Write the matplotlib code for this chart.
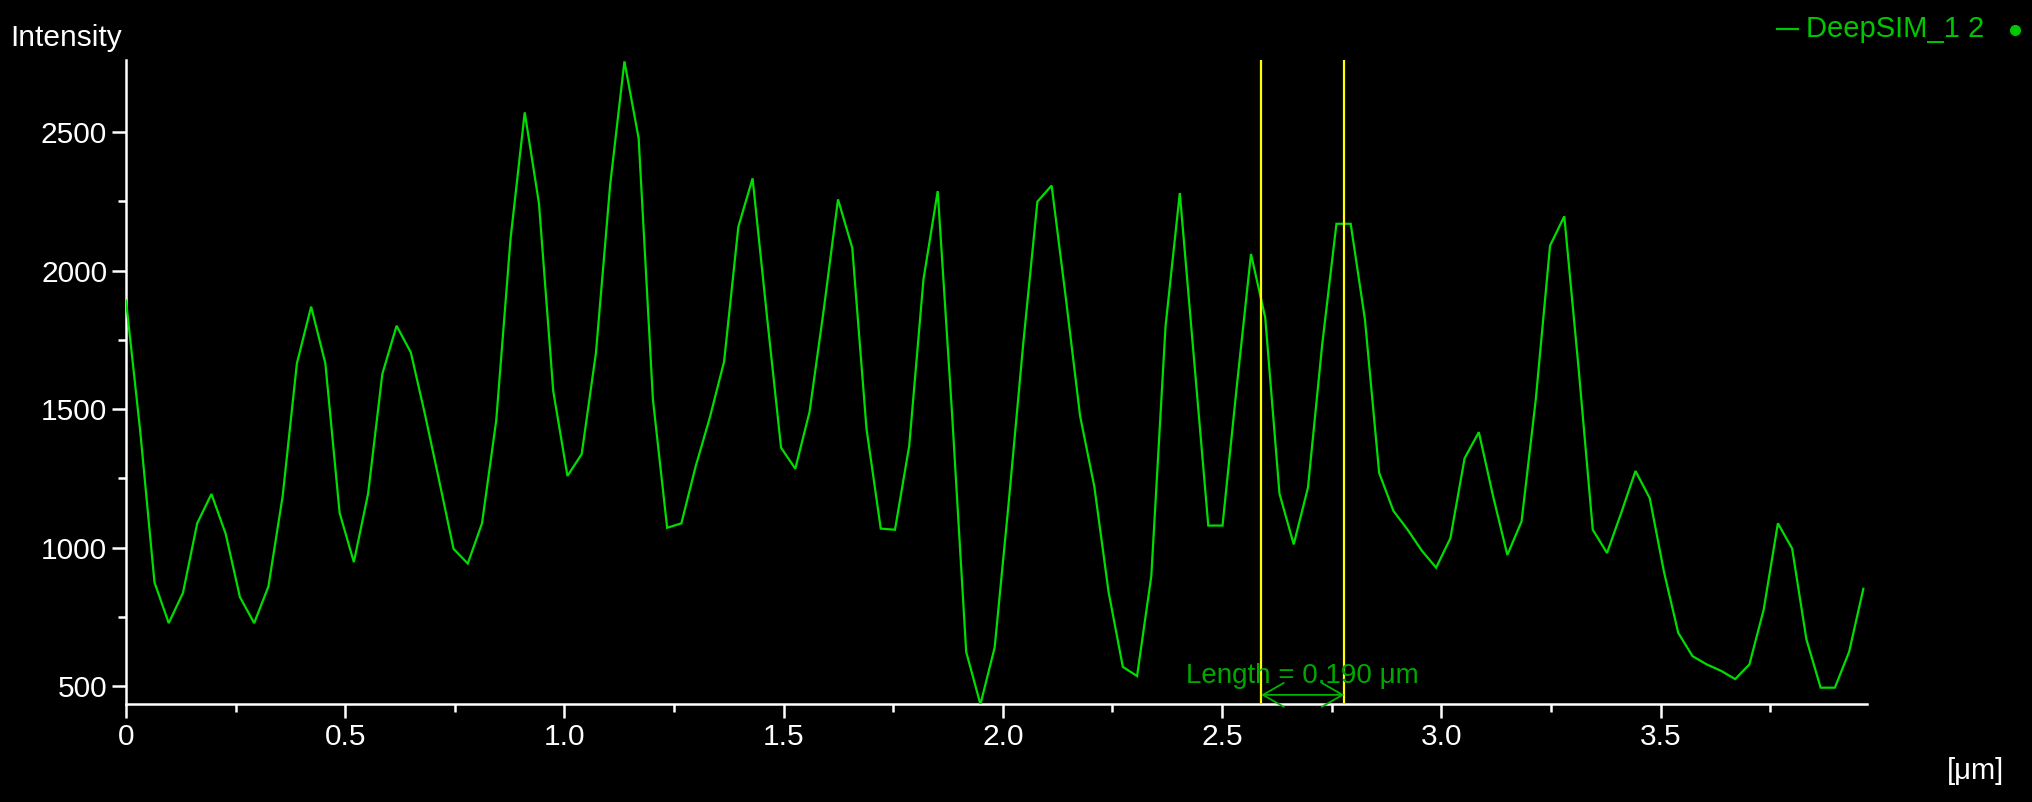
import numpy as np
import matplotlib
matplotlib.use('Agg')
import matplotlib.pyplot as plt
from matplotlib.lines import Line2D

# ---- data ----
intensity = [
    1892, 1420, 875, 728, 837, 1088, 1194, 1050, 822, 728,
    860, 1186, 1665, 1870, 1665, 1126, 948, 1195, 1627, 1801,
    1705, 1480, 1240, 996, 943, 1088, 1460, 2113, 2571, 2242,
    1566, 1259, 1338, 1703, 2310, 2755, 2477, 1536, 1072, 1088,
    1293, 1470, 1672, 2158, 2333, 1840, 1361, 1285, 1490, 1860,
    2257, 2082, 1429, 1069, 1065, 1368, 1968, 2287, 1490, 624,
    435, 640, 1171, 1733, 2249, 2307, 1900, 1475, 1220, 840,
    570, 537, 898, 1800, 2280, 1680, 1080, 1080, 1581, 2060,
    1830, 1195, 1012, 1217, 1733, 2169, 2169, 1824, 1270, 1133,
    1065, 989, 928, 1034, 1323, 1417, 1186, 974, 1095, 1536,
    2090, 2196, 1650, 1065, 981, 1126, 1277, 1179, 913, 693,
    609, 579, 556, 526, 579, 776, 1088, 997, 670, 495,
    495, 624, 852,
]
step_um = 0.03248
distance_um = np.arange(len(intensity)) * step_um

x_ticks = [0, 0.5, 1.0, 1.5, 2.0, 2.5, 3.0, 3.5]
x_tick_labels = ['0', '0.5', '1.0', '1.5', '2.0', '2.5', '3.0', '3.5']
x_minor = [0.25, 0.75, 1.25, 1.75, 2.25, 2.75, 3.25, 3.75]
y_ticks = [500, 1000, 1500, 2000, 2500]
y_tick_labels = ['500', '1000', '1500', '2000', '2500']
y_minor = [750, 1250, 1750, 2250]
cursor_positions = [2.589, 2.779]
series_name = 'DeepSIM_1 2'
length_label = 'Length = 0.190 μm'

# ---- style ----
W, H, DPI = 2033, 802, 100
plt.rcParams['font.family'] = ['Liberation Sans', 'DejaVu Sans']
FS = 21.5
LINE_C = '#00dd00'
TEXT_G = '#00c800'
LEN_G = '#00a800'

fig = plt.figure(figsize=(W / DPI, H / DPI), dpi=DPI, facecolor='black')
ax = fig.add_axes([126 / W, 1 - 704.3 / H, (1866.6 - 126) / W, (704.3 - 60) / H])
ax.set_facecolor('black')

ax.plot(distance_um, intensity, color=LINE_C, lw=1.6, solid_joinstyle='miter', zorder=3)

for xc in cursor_positions:
    ax.axvline(xc, ymin=0.004, ymax=1.0, color='#ffff00', lw=1.6, zorder=4)

ax.set_xlim(0, 3.97)
ax.set_ylim(435, 2760)

for s in ['top', 'right']:
    ax.spines[s].set_visible(False)
for s in ['left', 'bottom']:
    ax.spines[s].set_color('white')
    ax.spines[s].set_linewidth(1.8)

ax.set_xticks(x_ticks, labels=x_tick_labels)
ax.set_xticks(x_minor, minor=True)
ax.set_yticks(y_ticks, labels=y_tick_labels)
ax.set_yticks(y_minor, minor=True)
ax.tick_params(which='major', direction='out', length=10, width=1.8,
               colors='white', labelsize=FS, pad=3.5)
ax.tick_params(which='minor', direction='out', length=5.5, width=1.8, colors='white')

# measurement annotation
ax.annotate('', xy=(cursor_positions[0], 469), xytext=(cursor_positions[1], 469),
            arrowprops=dict(arrowstyle='<->,head_length=0.75,head_width=0.43',
                            mutation_scale=20, color='#00b400', lw=1.3,
                            shrinkA=0, shrinkB=0), zorder=5)
ax.text(2.417, 512, length_label, color=LEN_G, fontsize=20, ha='left', va='baseline', zorder=5)

# figure texts
fig.text(10 / W, 1 - 46 / H, 'Intensity', color='white', fontsize=FS, ha='left', va='baseline')
fig.text(1976 / W, 1 - 771 / H, '[μm]', color='white', fontsize=21, ha='center', va='center')

# legend-like label top-right
fig.add_artist(Line2D([1777 / W, 1798 / W], [1 - 28.5 / H, 1 - 28.5 / H],
                      color=TEXT_G, lw=1.6, transform=fig.transFigure))
fig.text(1806 / W, 1 - 36.7 / H, series_name, color=TEXT_G, fontsize=21,
         ha='left', va='baseline')
fig.add_artist(Line2D([2015 / W], [1 - 29.5 / H], marker='o', markersize=7,
                      color=TEXT_G, linestyle='none', transform=fig.transFigure))

fig.savefig('out.png', dpi=DPI, facecolor='black')
